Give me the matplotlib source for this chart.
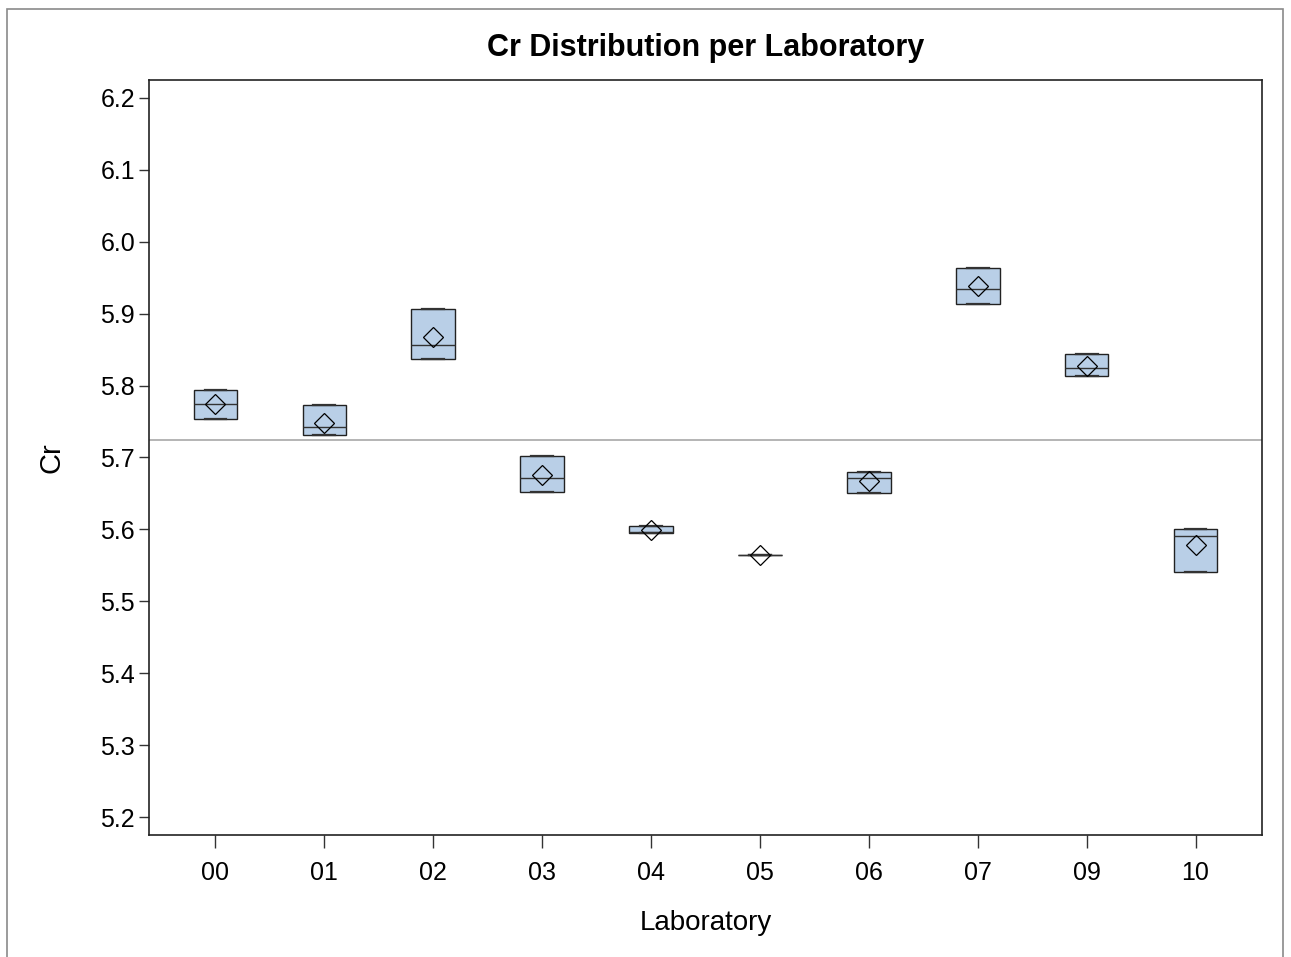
import matplotlib
matplotlib.use("Agg")
import matplotlib.pyplot as plt
from matplotlib.patches import Rectangle

plt.rcParams['font.family'] = ['Liberation Sans', 'DejaVu Sans']

labs = ['00', '01', '02', '03', '04', '05', '06', '07', '09', '10']
q1 = [5.754, 5.731, 5.837, 5.652, 5.595, 5.565, 5.650, 5.914, 5.814, 5.541]
q3 = [5.794, 5.773, 5.907, 5.702, 5.605, 5.565, 5.680, 5.964, 5.844, 5.601]
med = [5.775, 5.742, 5.857, 5.672, 5.597, 5.565, 5.671, 5.934, 5.824, 5.591]
mean = [5.775, 5.748, 5.868, 5.675, 5.599, 5.565, 5.667, 5.938, 5.827, 5.578]
grand_mean = 5.725

stats = []
for i in range(len(labs)):
    stats.append({'label': labs[i], 'q1': q1[i], 'q3': q3[i], 'med': med[i],
                  'mean': mean[i], 'whislo': q1[i], 'whishi': q3[i], 'fliers': []})

fig = plt.figure(figsize=(12.91, 9.57), dpi=100)
ax = fig.add_axes([0.1154, 0.1275, 0.8621, 0.7889])

# reference line (overall mean)
ax.axhline(grand_mean, color='#a8a8a8', lw=1.2, zorder=1)

ax.bxp(stats, positions=range(len(labs)), widths=0.4, showmeans=True,
       patch_artist=True, capwidths=0.2,
       boxprops=dict(facecolor='#b9cfe7', edgecolor='#222222', lw=1.0),
       medianprops=dict(color='#333333', lw=1.0),
       whiskerprops=dict(color='#222222', lw=1.0),
       capprops=dict(color='#333333', lw=1.6),
       meanprops=dict(marker='D', markerfacecolor='none', markeredgecolor='black',
                      markersize=10, markeredgewidth=0.9),
       zorder=2)

ax.set_xlim(-0.61, 9.61)
ax.set_ylim(5.175, 6.225)
ax.set_yticks([5.2, 5.3, 5.4, 5.5, 5.6, 5.7, 5.8, 5.9, 6.0, 6.1, 6.2])
ax.set_xticks(range(len(labs)))
ax.set_xticklabels(labs)
ax.tick_params(axis='y', length=7, width=1, labelsize=18, pad=3, color='#333333')
ax.tick_params(axis='x', length=9, width=1, labelsize=18, pad=10, color='#333333')
for s in ax.spines.values():
    s.set_linewidth(1.2)
    s.set_color('#222222')

ax.set_title('Cr Distribution per Laboratory', fontsize=22, fontweight='bold', pad=17)
ax.set_xlabel('Laboratory', fontsize=20, labelpad=18)
ax.set_ylabel('Cr', fontsize=21, labelpad=25)

# outer frame
fig.add_artist(Rectangle((7 / 1291, -0.05), 1276 / 1291, 1.05 - 9 / 957,
                         transform=fig.transFigure, fill=False,
                         edgecolor='#8a8a8a', lw=1.2))

fig.savefig('out.png', dpi=100)
